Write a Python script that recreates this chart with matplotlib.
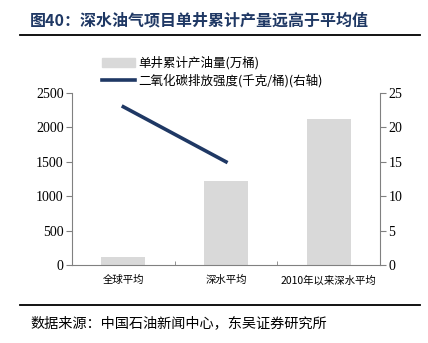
import matplotlib
matplotlib.use("Agg")
import matplotlib.pyplot as plt
from matplotlib.patches import Patch
from matplotlib.lines import Line2D

plt.rcParams['font.family'] = ['Liberation Serif', 'Noto Sans CJK SC', 'DejaVu Sans']

categories = ['全球平均', '深水平均', '2010年以来深水平均']
production = [115, 1220, 2125]
co2 = [23, 15]
left_ticks = [0, 500, 1000, 1500, 2000, 2500]
right_ticks = [0, 5, 10, 15, 20, 25]

W, H = 428, 343
fig = plt.figure(figsize=(W/100, H/100), dpi=100)
ax = fig.add_axes([72/W, 1-265/H, (380-72)/W, (265-93)/H])
ax2 = ax.twinx()

x = list(range(len(categories)))
ax.bar(x, production, width=0.43, color='#D9D9D9', zorder=2)
ax.set_xlim(-0.5, 2.5)
ax.set_ylim(0, 2500)
ax.set_yticks(left_ticks)
ax.set_xticks([])
ax.set_xticks([0.5, 1.5], minor=True)
ax.tick_params(axis='x', which='minor', direction='in', length=3, color='#808080')
for i, c in enumerate(categories):
    ax.text(i, -150, c, ha='center', va='top', fontsize=7.5,
            family=['Noto Sans CJK SC', 'Liberation Serif'])

ax2.plot(x[:len(co2)], co2, color='#1F3864', lw=2.6, zorder=3)
ax2.set_ylim(0, 25)
ax2.set_yticks(right_ticks)

for a in (ax, ax2):
    for s in ('top',):
        a.spines[s].set_visible(False)
    a.spines['left'].set_color('#808080')
    a.spines['right'].set_color('#808080')
    a.spines['bottom'].set_color('#808080')
    a.tick_params(axis='y', length=4, color='#808080', labelsize=10, pad=2)
ax.spines['right'].set_visible(False)
ax2.spines['left'].set_visible(False)
ax2.spines['bottom'].set_visible(False)

handles = [Patch(color='#D9D9D9'), Line2D([0], [0], color='#1F3864', lw=2.6)]
labels = ['单井累计产油量(万桶)', '二氧化碳排放强度(千克/桶)(右轴)']
fig.legend(handles, labels, loc='upper left', bbox_to_anchor=(96/W, 1-50/H),
           frameon=False, handlelength=2.6, handleheight=0.8,
           labelspacing=0.3, borderpad=0, handletextpad=0.3,
           prop={'family': ['Noto Sans CJK SC', 'Liberation Serif'], 'size': 9})

fig.text(30/W, 1-20/H, '图40：深水油气项目单井累计产量远高于平均值', fontsize=11.5,
         fontweight='bold', color='#1F3864', va='center',
         family=['Noto Sans CJK SC'])
fig.add_artist(Line2D([20/W, 420/W], [1-35/H, 1-35/H], color='black', lw=1.3))
fig.add_artist(Line2D([20/W, 420/W], [1-305/H, 1-305/H], color='black', lw=1.3))
fig.text(30/W, 1-323/H, '数据来源：中国石油新闻中心，东吴证券研究所', fontsize=10.2,
         va='center', family=['Noto Sans CJK SC'])

fig.savefig('out.png', dpi=100)
